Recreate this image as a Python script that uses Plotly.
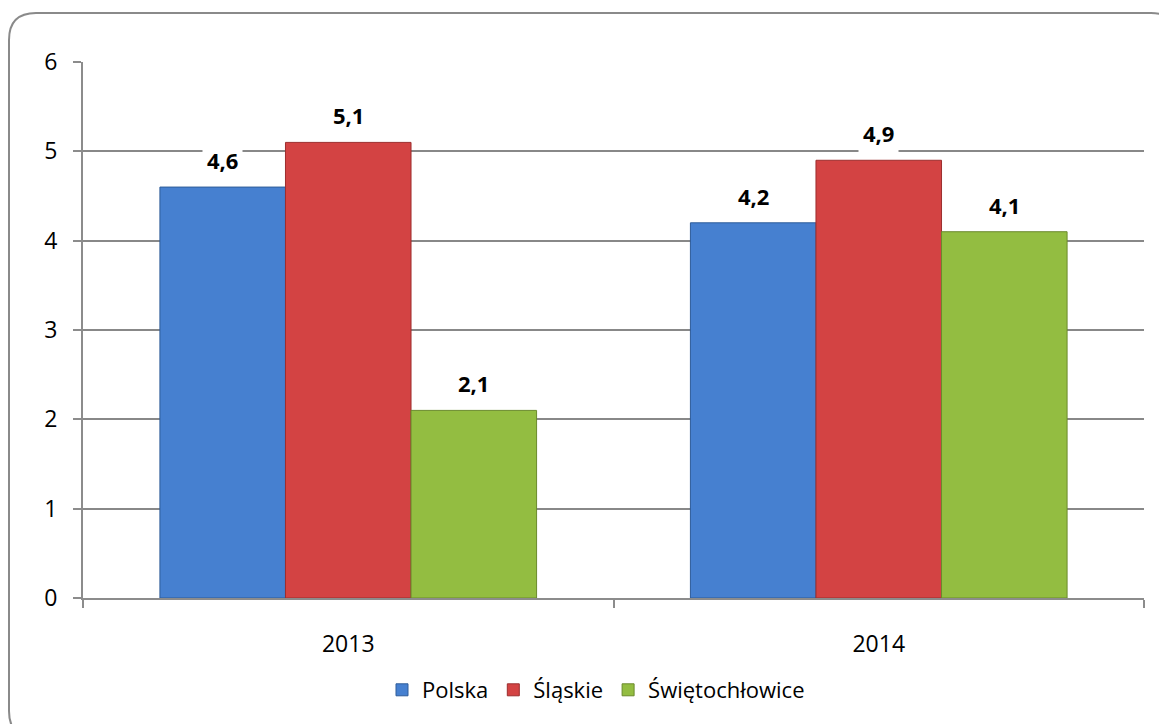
import plotly.graph_objects as go

# data
years = ["2013", "2014"]
polska = [4.6, 4.2]
slaskie = [5.1, 4.9]
swietochlowice = [2.1, 4.1]
series_names = ["Polska", "Śląskie", "Świętochłowice"]
y_ticks = [0, 1, 2, 3, 4, 5, 6]

# styling
fill_colors = ["#4680d0", "#d34343", "#93bd41"]
edge_colors = ["#2e5c99", "#9c2e2e", "#6b8a2c"]
font_family = "Open Sans, Liberation Sans, sans-serif"

# page body has an 8px margin, so the figure is a bit smaller than the window
OFF = 8
W, H = 1167 - OFF, 724 - OFF
M_L, M_R, M_T, M_B = 83 - OFF, W - (1144 - OFF), 62 - OFF, H - (598 - OFF)
BARGAP = 0.29
plot_w = W - M_L - M_R
plot_h = H - M_T - M_B


def px_x(px):
    # window pixel -> paper x
    return (px - OFF - M_L) / plot_w


def px_y(py):
    # window pixel -> paper y
    return (H - M_B - (py - OFF)) / plot_h


fig = go.Figure()
all_values = [polska, slaskie, swietochlowice]
for name, vals, fc, ec in zip(series_names, all_values, fill_colors, edge_colors):
    fig.add_trace(
        go.Bar(
            name=name,
            x=years,
            y=vals,
            marker=dict(color=fc, line=dict(color=ec, width=1)),
        )
    )

# value labels with white box (break the gridlines like the original)
bar_px = plot_w / len(years) * (1 - BARGAP) / len(series_names)
for i, vals in enumerate(all_values):
    for j, v in enumerate(vals):
        fig.add_annotation(
            x=j,  # category index
            y=v,
            text=f"<b>{v:.1f}</b>".replace(".", ","),
            showarrow=False,
            xshift=(i - 1) * bar_px,
            yanchor="bottom",
            yshift=7,
            bgcolor="white",
            borderpad=4,
            font=dict(family=font_family, size=22, color="black"),
        )

# rounded outer frame (runs past the right/bottom edge like the original)
x0, x1 = px_x(9), px_x(1178)
y0, y1 = px_y(738), px_y(13)
rx, ry = 27 / plot_w, 27 / plot_h
frame = (
    f"M {x0 + rx},{y1} L {x1 - rx},{y1} Q {x1},{y1} {x1},{y1 - ry} "
    f"L {x1},{y0 + ry} Q {x1},{y0} {x1 - rx},{y0} "
    f"L {x0 + rx},{y0} Q {x0},{y0} {x0},{y0 + ry} "
    f"L {x0},{y1 - ry} Q {x0},{y1} {x0 + rx},{y1} Z"
)
fig.add_shape(
    type="path",
    path=frame,
    xref="paper",
    yref="paper",
    line=dict(color="#8a8a8a", width=2),
    layer="below",
)

fig.update_xaxes(
    type="category",
    range=[-0.5, len(years) - 0.5],
    showline=True,
    linecolor="#8c8c8c",
    linewidth=2,
    ticks="outside",
    tickson="boundaries",
    ticklen=8,
    tickcolor="#8c8c8c",
    tickwidth=2,
    showgrid=False,
    ticklabelstandoff=24,
    tickfont=dict(family=font_family, size=23, color="black"),
)
fig.update_yaxes(
    range=[0, 6],
    tickvals=y_ticks,
    showline=True,
    linecolor="#8c8c8c",
    linewidth=2,
    ticks="outside",
    ticklen=8,
    tickcolor="#8c8c8c",
    tickwidth=2,
    showgrid=True,
    gridcolor="#888888",
    gridwidth=1.6,
    zeroline=False,
    ticklabelstandoff=11,
    tickfont=dict(family=font_family, size=23, color="black"),
)
fig.update_layout(
    width=W,
    height=H,
    margin=dict(l=M_L, r=M_R, t=M_T, b=M_B),
    plot_bgcolor="white",
    paper_bgcolor="white",
    barmode="group",
    bargap=BARGAP,
    bargroupgap=0,
    legend=dict(
        orientation="h",
        x=px_x(596),
        xanchor="center",
        y=px_y(690),
        yanchor="middle",
        font=dict(family=font_family, size=22, color="black"),
    ),
)

fig.write_html("out.html")
